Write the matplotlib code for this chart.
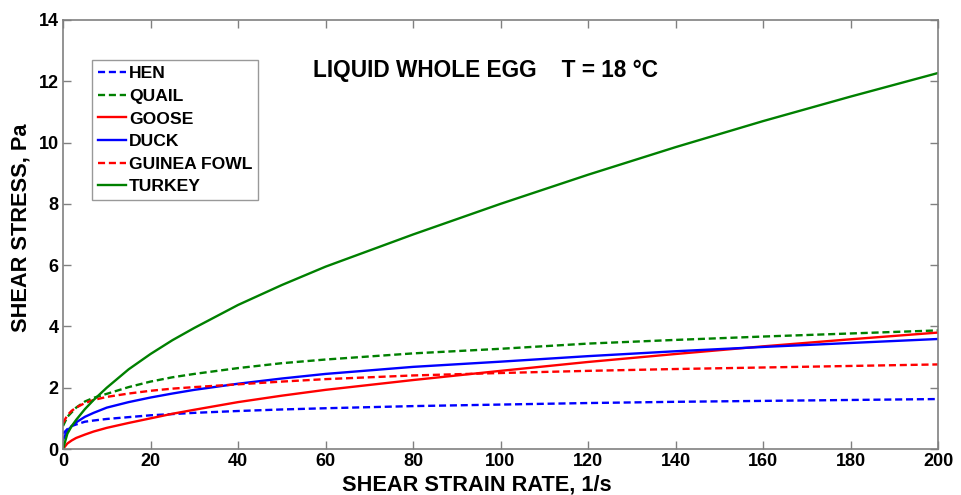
import matplotlib
matplotlib.use("Agg")
import matplotlib.pyplot as plt

plt.rcParams['font.family'] = ['Liberation Sans', 'DejaVu Sans']
plt.rcParams['font.weight'] = 'bold'

x = [0, 1, 2, 3, 5, 7, 10, 15, 20, 25, 30, 40, 50, 60, 80, 100, 120, 140, 160, 180, 200]

hen = [0.5, 0.65, 0.75, 0.8, 0.89, 0.93, 0.98, 1.04, 1.1, 1.14, 1.18, 1.24, 1.29, 1.33,
       1.4, 1.45, 1.5, 1.54, 1.57, 1.6, 1.63]
quail = [0.75, 1.05, 1.2, 1.35, 1.55, 1.67, 1.8, 2.02, 2.2, 2.34, 2.45, 2.64, 2.8, 2.92,
         3.12, 3.27, 3.44, 3.56, 3.67, 3.77, 3.87]
goose = [0.0, 0.18, 0.28, 0.36, 0.47, 0.57, 0.69, 0.85, 1.0, 1.15, 1.28, 1.53, 1.74, 1.93,
         2.25, 2.55, 2.84, 3.1, 3.35, 3.58, 3.8]
duck = [0.3, 0.6, 0.75, 0.87, 1.05, 1.18, 1.35, 1.53, 1.68, 1.81, 1.93, 2.13, 2.3, 2.45,
        2.68, 2.85, 3.03, 3.19, 3.33, 3.46, 3.59]
guinea = [0.85, 1.1, 1.25, 1.35, 1.5, 1.6, 1.7, 1.81, 1.9, 1.97, 2.02, 2.11, 2.2, 2.28,
          2.4, 2.48, 2.55, 2.61, 2.66, 2.71, 2.76]
turkey = [0.0, 0.5, 0.75, 0.95, 1.3, 1.6, 2.0, 2.6, 3.1, 3.55, 3.95, 4.7, 5.35, 5.95,
          7.0, 8.0, 8.95, 9.85, 10.7, 11.5, 12.27]

labels = ["HEN", "QUAIL", "GOOSE", "DUCK", "GUINEA FOWL", "TURKEY"]
xticks = [0, 20, 40, 60, 80, 100, 120, 140, 160, 180, 200]
yticks = [0, 2, 4, 6, 8, 10, 12, 14]

W, H = 961, 495
fig = plt.figure(figsize=(W / 100, H / 100), dpi=100)
ax = fig.add_axes([63 / W, 1 - 449 / H, 875 / W, 429 / H])

dash = (3, 1.6)
lw = 1.7
ax.plot(x, hen, color='#0000ff', lw=lw, dashes=dash, label=labels[0])
ax.plot(x, quail, color='#008000', lw=lw, dashes=dash, label=labels[1])
ax.plot(x, goose, color='#ff0000', lw=lw, label=labels[2])
ax.plot(x, duck, color='#0000ff', lw=lw, label=labels[3])
ax.plot(x, guinea, color='#ff0000', lw=lw, dashes=dash, label=labels[4])
ax.plot(x, turkey, color='#008000', lw=lw, label=labels[5])

ax.set_xlim(0, 200)
ax.set_ylim(0, 14)
ax.set_xticks(xticks)
ax.set_yticks(yticks)
ax.tick_params(direction='in', top=True, right=True, length=6, width=1,
               color='#808080', labelsize=13, pad=3)
for s in ax.spines.values():
    s.set_color('#808080')
    s.set_linewidth(1.2)
for t in ax.get_xticklabels() + ax.get_yticklabels():
    t.set_fontweight('bold')

fig.text(477 / W, 1 - 490 / H, "SHEAR STRAIN RATE, 1/s", fontsize=15.7,
         fontweight='bold', ha='center', va='baseline')
fig.text(21.5 / W, 1 - 227.5 / H, "SHEAR STRESS, Pa", fontsize=15.7,
         fontweight='bold', ha='center', va='center', rotation=90)

ax.text((313 - 63) / 875, (449 - 71) / 429, "LIQUID WHOLE EGG    T = 18 °C",
        transform=ax.transAxes, fontsize=16.3, fontweight='bold',
        ha='left', va='center')

leg = ax.legend(loc='upper left', bbox_to_anchor=(29 / 875, (449 - 60) / 429),
                fontsize=12.6, frameon=True, fancybox=False, handlelength=1.6,
                handletextpad=0.15, labelspacing=0.42, borderpad=0.35,
                borderaxespad=0)
leg.get_frame().set_edgecolor('#808080')
leg.get_frame().set_linewidth(1.0)
for t in leg.get_texts():
    t.set_fontweight('bold')

fig.savefig("out.png", dpi=100)
